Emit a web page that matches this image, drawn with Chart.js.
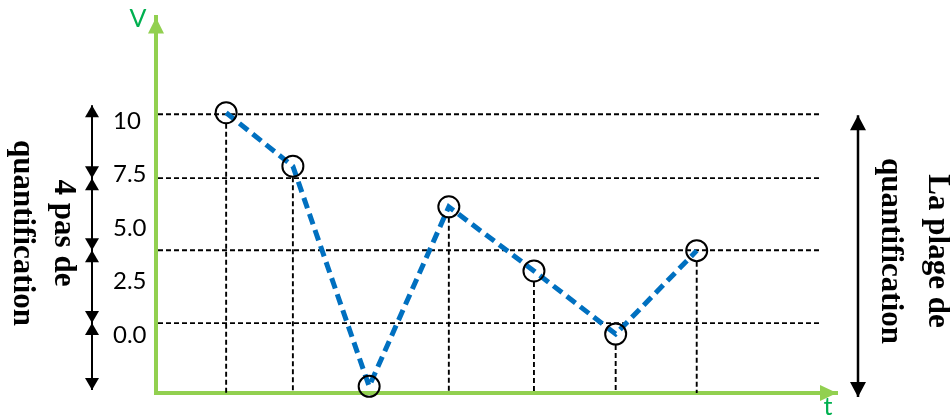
<!DOCTYPE html>
<html>
<head>
<meta charset="utf-8">
<script src="https://cdn.jsdelivr.net/npm/chart.js@4.4.1/dist/chart.umd.min.js"></script>
<style>
  body { margin: 0; background: #fff; }
  canvas { display: block; }
</style>
</head>
<body>
<canvas id="myChart" width="950" height="418"></canvas>
<script>
// sample instants (t axis, arbitrary units) and sampled amplitudes
const times = [10.3, 20.1, 31.3, 43.0, 55.5, 67.5, 79.4];
const samples = [10.4, 7.9, -2.4, 6.0, 3.0, 0.05, 3.95];
// quantification levels (black dashed lines)
const quantLevels = [10.33, 7.34, 3.97, 0.56];
// tick labels on the V axis
const yTicks = [0, 2.5, 5, 7.5, 10];
const leftLabel = ['4 pas de', 'quantification'];
const rightLabel = ['La plage de', 'quantification'];

const AXIS_GREEN = '#92D050';
const TEXT_GREEN = '#00B050';
const SERIES_BLUE = '#0070C0';

function arrowHead(ctx, x, y, dir, len, half) {
  // dir: 'up' | 'down' | 'right'
  ctx.beginPath();
  ctx.moveTo(x, y);
  if (dir === 'up') { ctx.lineTo(x - half, y + len); ctx.lineTo(x + half, y + len); }
  if (dir === 'down') { ctx.lineTo(x - half, y - len); ctx.lineTo(x + half, y - len); }
  if (dir === 'right') { ctx.lineTo(x - len, y - half); ctx.lineTo(x - len, y + half); }
  ctx.closePath();
  ctx.fill();
}

// text turned a quarter clockwise, following lines go to the left
function rotatedText(ctx, lines, x, y, gap) {
  ctx.save();
  ctx.translate(x, y);
  ctx.rotate(Math.PI / 2);
  ctx.textAlign = 'center';
  ctx.textBaseline = 'middle';
  lines.forEach((l, i) => ctx.fillText(l, 0, i * gap));
  ctx.restore();
}

const quantGrid = {
  id: 'quantGrid',
  beforeDatasetsDraw(chart) {
    const { ctx, chartArea, scales: { x, y } } = chart;
    ctx.save();
    ctx.strokeStyle = '#000';
    ctx.lineWidth = 1.9;
    ctx.setLineDash([5, 3]);
    quantLevels.forEach(v => {
      const py = y.getPixelForValue(v);
      ctx.beginPath();
      ctx.moveTo(chartArea.left + 2, py);
      ctx.lineTo(chartArea.right - 15, py);
      ctx.stroke();
    });
    // drop lines from each sample to the t axis
    times.forEach((t, i) => {
      const px = x.getPixelForValue(t);
      const py = y.getPixelForValue(samples[i]) + 11;
      if (py >= chartArea.bottom - 2) return;
      ctx.beginPath();
      ctx.moveTo(px, py);
      ctx.lineTo(px, chartArea.bottom);
      ctx.stroke();
    });
    ctx.restore();
  },
  afterDraw(chart) {
    const { ctx, chartArea, scales: { y } } = chart;
    ctx.save();
    // axis arrow heads and names
    ctx.fillStyle = AXIS_GREEN;
    arrowHead(ctx, chartArea.left, chartArea.top, 'up', 16, 8);
    arrowHead(ctx, chartArea.right, chartArea.bottom, 'right', 17, 8);
    ctx.fillStyle = TEXT_GREEN;
    ctx.font = '25px Lato';
    ctx.textAlign = 'center';
    ctx.textBaseline = 'middle';
    ctx.fillText('V', 138, 19);
    ctx.fillText('t', 828, 407);

    // left: quantification steps
    ctx.fillStyle = '#000';
    ctx.strokeStyle = '#000';
    ctx.lineWidth = 2;
    const lx = 92;
    const stops = [y.getPixelForValue(quantLevels[0]) - 9]
      .concat(quantLevels.slice(1).map(v => y.getPixelForValue(v)))
      .concat([chartArea.bottom - 3]);
    ctx.beginPath();
    ctx.moveTo(lx, stops[0]);
    ctx.lineTo(lx, stops[stops.length - 1]);
    ctx.stroke();
    for (let i = 0; i < stops.length - 1; i++) {
      arrowHead(ctx, lx, stops[i], 'up', 12, 7);
      arrowHead(ctx, lx, stops[i + 1], 'down', 12, 7);
    }

    // right: full quantification range
    const rx = 858;
    const top = y.getPixelForValue(quantLevels[0]) + 1;
    const bot = chartArea.bottom + 4;
    ctx.lineWidth = 2.5;
    ctx.beginPath();
    ctx.moveTo(rx, top);
    ctx.lineTo(rx, bot);
    ctx.stroke();
    arrowHead(ctx, rx, top, 'up', 15, 8);
    arrowHead(ctx, rx, bot, 'down', 15, 8);

    ctx.font = 'bold 31px "Liberation Serif"';
    rotatedText(ctx, leftLabel, 63, 233, 41);
    rotatedText(ctx, rightLabel, 937, 251, 47);
    ctx.restore();
  }
};

new Chart(document.getElementById('myChart'), {
  type: 'scatter',
  data: {
    datasets: [{
      data: times.map((t, i) => ({ x: t, y: samples[i] })),
      showLine: true,
      borderColor: SERIES_BLUE,
      borderWidth: 5,
      borderDash: [11, 6],
      tension: 0,
      pointRadius: 10.5,
      pointHoverRadius: 10.5,
      pointBorderColor: '#000',
      pointBorderWidth: 2,
      pointBackgroundColor: 'rgba(0,0,0,0)',
      clip: false,
    }],
  },
  options: {
    responsive: false,
    animation: false,
    events: [],
    layout: { padding: { left: 113, right: 113, top: 17, bottom: 25 } },
    plugins: { legend: { display: false }, tooltip: { enabled: false } },
    scales: {
      x: {
        type: 'linear',
        min: 0,
        max: 100,
        grid: { display: false },
        border: { display: true, color: AXIS_GREEN, width: 4 },
        ticks: { display: false },
        afterFit: s => { s.height = 0; },
      },
      y: {
        min: -2.71,
        max: 14.86,
        grid: { display: false },
        border: { display: true, color: AXIS_GREEN, width: 4 },
        afterBuildTicks: s => { s.ticks = yTicks.map(v => ({ value: v })); },
        afterFit: s => { s.width = 43; },
        ticks: {
          crossAlign: 'far',
          color: '#000',
          font: { family: 'Lato', size: 24 },
          callback: v => (v === 10 ? '10' : v.toFixed(1)),
        },
      },
    },
  },
  plugins: [quantGrid],
});
</script>
</body>
</html>
